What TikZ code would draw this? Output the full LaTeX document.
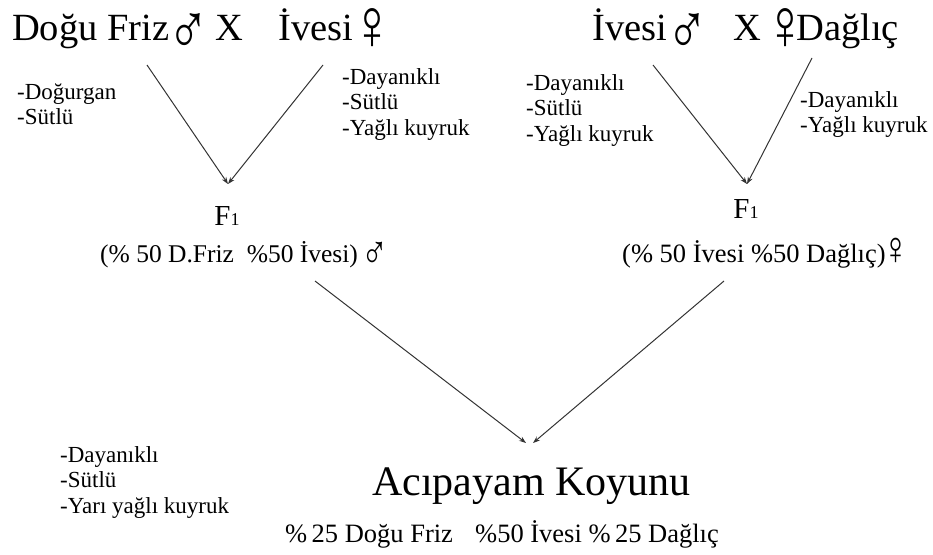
\documentclass[tikz,border=0pt]{standalone}
\usepackage{fontspec}
\usepackage{graphicx}
\setmainfont{Liberation Serif}
\usetikzlibrary{arrows.meta}
\tikzset{
  big/.style={font=\fontsize{38.5}{42}\selectfont, inner sep=0pt, anchor=base west},
  bigsym/.style={font=\fontsize{56}{60}\selectfont, inner sep=0pt, anchor=base},
  midsym/.style={font=\fontsize{36}{40}\selectfont, inner sep=0pt, anchor=base},
  lab/.style={font=\fontsize{23}{25.5}\selectfont, inner sep=0pt, anchor=base west},
  mid/.style={inner sep=0pt, anchor=base west},
  fone/.style={font=\fontsize{29}{32}\selectfont, inner sep=0pt, anchor=base},
  conn/.style={draw=black!80, line width=1pt, -{Stealth[length=7pt,width=5pt]}},
}
\newcommand{\traits}[1]{\begin{tabular}[t]{@{}l@{}}#1\end{tabular}}
\newcommand{\tallsym}[1]{\scalebox{1}[1.3]{#1}}
\begin{document}
\begin{tikzpicture}[x=1pt,y=-1pt]
\useasboundingbox (0,0) rectangle (933,554);
% titles
\node[big] (t1a) at (12,40) {Doğu Friz};
\node[bigsym] (s1) at (188,54) {\tallsym{♂}};
\node[big] (t1b) at (215,40) {X};
\node[big] (t1c) at (278,40) {İvesi};
\node[bigsym] (s2) at (372,49) {\tallsym{♀}};
\node[big] (t2a) at (592,40) {İvesi};
\node[bigsym] (s3) at (687,54) {\tallsym{♂}};
\node[big] (t2b) at (733,40) {X};
\node[bigsym] (s4) at (785,49) {\tallsym{♀}};
\node[big] (t2c) at (796,40) {Dağlıç};
% trait lists
\node[lab] (l1) at (17,99) {\traits{-Doğurgan\\-Sütlü}};
\node[lab] (l2) at (342,84) {\traits{-Dayanıklı\\-Sütlü\\-Yağlı kuyruk}};
\node[lab] (l3) at (526,90) {\traits{-Dayanıklı\\-Sütlü\\-Yağlı kuyruk}};
\node[lab] (l4) at (800,107) {\traits{-Dayanıklı\\-Yağlı kuyruk}};
\node[lab] (l5) at (60,462) {\traits{-Dayanıklı\\-Sütlü\\-Yarı yağlı kuyruk}};
% F1
\node[fone] (f1) at (227,225) {F{\fontsize{18}{20}\selectfont 1}};
\node[fone] (f2) at (746,218) {F{\fontsize{18}{20}\selectfont 1}};
\node[mid, font=\fontsize{25.5}{28}\selectfont] (m1) at (100,262) {(\% 50 D.Friz \ \%50 İvesi)};
\node[midsym] (s5) at (375,268) {\tallsym{♂}};
\node[mid, font=\fontsize{26.5}{29}\selectfont] (m2) at (622,262) {(\% 50 İvesi \%50 Dağlıç)};
\node[midsym] (s6) at (896,264) {\tallsym{♀}};
% result
\node[font=\fontsize{42}{46}\selectfont, inner sep=0pt, anchor=base west] (r) at (372,495) {Acıpayam Koyunu};
\node[mid, font=\fontsize{26.5}{29}\selectfont] (rp1) at (285,542) {\%\,25 Doğu Friz};
\node[mid, font=\fontsize{26.5}{29}\selectfont] (rp2) at (475,542) {\%50 İvesi \%\,25 Dağlıç};
% connectors
\coordinate (a1) at (147,65);
\coordinate (a2) at (323,65);
\coordinate (ta) at (228,184);
\coordinate (b1) at (653,65);
\coordinate (b2) at (812,58);
\coordinate (tb) at (747,184);
\coordinate (c1) at (315,281);
\coordinate (c2) at (724,281);
\coordinate (tc1) at (526,443);
\coordinate (tc2) at (533,443);
\draw[conn] (a1) -- (ta);
\draw[conn] (a2) -- (ta);
\draw[conn] (b1) -- (tb);
\draw[conn] (b2) -- (tb);
\draw[conn] (c1) -- (tc1);
\draw[conn] (c2) -- (tc2);
\end{tikzpicture}
\end{document}
